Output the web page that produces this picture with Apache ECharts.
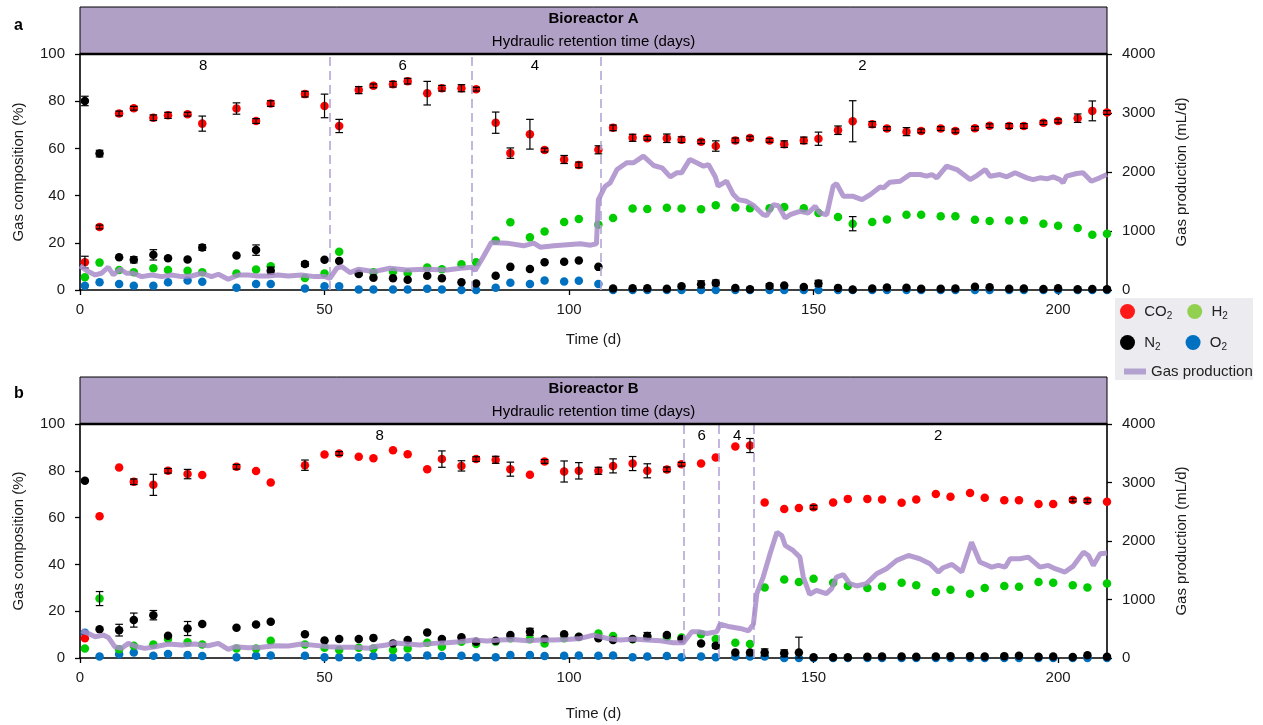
<!DOCTYPE html>
<html><head><meta charset="utf-8">
<script src="https://cdn.jsdelivr.net/npm/echarts@6/dist/echarts.min.js"></script>
<style>html,body{margin:0;padding:0;background:#fff}#c{width:1263px;height:725px}</style>
</head><body><div id="c"></div>
<script>
// ---------- Bioreactor A ----------
const daysA = [1,4,8,11,15,18,22,25,32,36,39,46,50,53,57,60,64,67,71,74,78,81,85,88,92,95,99,102,106,109,113,116,120,123,127,130,134,137,141,144,148,151,155,158,162,165,169,172,176,179,183,186,190,193,197,200,204,207,210];
const co2A = [11.8,26.7,74.8,77,73,74,74.5,70.5,76.9,71.6,79,83,78,69.5,84.7,86.5,87.2,88.5,83.4,85.5,85.5,85.1,70.9,58,66,59.3,55.3,53,59.4,68.7,64.5,64.3,64.3,63.7,62.8,61,63.4,64.4,63.4,61.8,63.4,64.1,67.7,71.5,70.2,68.4,67.1,67.4,68.4,67.4,68.5,69.6,69.5,69.5,70.9,71.6,72.8,75.9,75.2];
const co2ErrA = [2.5,0.8,1,0.8,1.2,1.3,0.8,3.2,2.4,1,1.2,1.2,5,2.8,1.5,0.8,1.2,1.2,5,1.2,1.5,0.8,4.5,2.2,6.3,0.8,1.7,1.2,1.7,1.2,1.5,0.8,1.8,1.2,0.8,2.2,1,0.8,0.8,1.4,1.4,2.8,1.8,8.7,1.2,0.8,1.7,0.8,0.8,0.8,0.8,0.8,1,1,0.8,0.8,1.8,4.2,0.8];
const h2A = [5.4,11.6,8.5,7.5,9.2,8.5,8.2,7.5,7,8.7,10.1,5.1,7,16.2,7,7.5,7.7,7.2,9.5,8.8,10.9,11.8,21,28.7,22.3,24.8,28.8,30.1,27.7,30.5,34.5,34.3,34.9,34.5,34.2,35.9,35,34.6,34.6,35.2,34.6,32.6,30.9,28.1,28.8,29.9,31.9,31.9,31.2,31.2,29.8,29.2,29.5,29.6,28.1,27.2,26.3,23.4,23.8];
const h2ErrA = [0,0,0,0,0,0,0,0,0,0,0,0,0,0,0,0,0,0,0,0,0,0,0,0,0,0,0,0,0,0,0,0,0,0,0,0,0,0,0,0,0,0,0,3,0,0,0,0,0,0,0,0,0,0,0,0,0,0,0];
const n2A = [80.1,57.8,13.9,12.8,14.9,13.5,12.9,18,14.6,16.9,8.2,11,12.8,12.3,6.8,5.2,5,4.3,6,5,3.3,2.8,6,9.8,8.9,11.8,12,12.5,9.8,0.6,0.7,0.7,0.5,1.6,2.4,3,0.8,0.3,1.7,1.9,1.3,2.8,0.9,0.2,0.6,1.1,1,0.5,0.5,0.6,1.4,1.2,0.5,0.6,0.4,0.7,0.3,0.4,0.3];
const n2ErrA = [2,1.4,0,1.3,2.2,0,0,1.2,0,2.2,1.5,1,0,0,0,0,0,0,0,0,0,0,0,0,0,0,0,0,0,0,0,0,0,0,1.5,1.2,0,0,1,0,0,1.3,0,0,0,0,0,0,0,0,0,0,0,0,0,0,0,0,0];
const o2A = [1.8,3.3,2.5,1.8,1.8,3.3,4,3.5,1,2.5,2.5,0.6,1.6,1.6,0.2,0.2,0.2,0.2,0.5,0.2,0,0,1,3.1,2.5,4,3.6,3.9,2.5,0,0,0,0,0,0,0,0,0,0,0,0,0,0,0,0,0,0,0,0,0,0,0,0,0,0,0,0,0,0];
const gasDaysA = [0,1.7,3.1,4.4,5.8,6.8,8.2,9.5,10.9,12.6,14.7,16.7,18.7,20.8,22.8,24.9,26.9,28.3,30.3,32.4,34.4,36.4,38.5,40.5,42.6,45.3,48,50.1,51.1,52.5,53.5,55.2,56.9,60,63.4,66.8,70.6,75,77.8,80.2,80.8,82.5,84.1,87.3,90.7,92.8,94.1,96.9,99.6,102.3,104.4,105.6,106,107.4,108.4,109.8,111.8,113.2,115.2,117.3,119,120.7,122,123,124.7,126.1,127.5,128.5,129.9,130.5,132.2,133.6,134.6,136.3,137.7,139.7,140.4,141.8,142.8,144.2,145.2,147.2,148.9,150.3,151.3,152.7,154,154.7,156.1,158.1,159.9,161.6,163.6,164.3,165.6,167.7,169.7,171.8,173.1,174.2,175.2,177.2,179.3,182,183.4,185.1,186.1,188.1,189.5,191.2,193.6,194.9,196.3,197.7,199,200.4,201,201.7,203.8,205.1,206.8,208.5,210];
const gasA = [408,312,255,284,386,255,352,284,284,227,255,227,255,227,238,284,227,267,182,255,255,238,238,255,238,255,227,227,199,369,397,295,352,312,369,340,352,340,369,386,329,567,805,794,749,794,726,749,766,783,760,783,1532,1759,1816,2042,2156,2156,2269,2110,2071,1918,1986,1986,2213,2156,2099,2127,1918,1759,1844,1617,1532,1503,1435,1276,1259,1446,1429,1220,1276,1333,1305,1418,1305,1276,1759,1804,1588,1588,1532,1617,1747,1730,1827,1844,1957,1957,1929,1957,1901,2099,2042,1872,1940,2042,1929,1957,1918,1986,1901,1872,1901,1884,1918,1872,1816,1929,1974,1986,1844,1901,1957];
const hrtChangeA = [51.1, 80.2, 106.5];
const hrtTextA = ['8','6','4','2'];
const hrtTextDayA = [25.2, 66, 93, 160];

// ---------- Bioreactor B ----------
const daysB = [1,4,8,11,15,18,22,25,32,36,39,46,50,53,57,60,64,67,71,74,78,81,85,88,92,95,99,102,106,109,113,116,120,123,127,130,134,137,140,144,147,150,154,157,161,164,168,171,175,178,182,185,189,192,196,199,203,206,210];
const co2B = [8.4,60.6,81.4,75.3,74,80,78.6,78.2,81.7,79.9,75,82.4,87,87.4,86,85.4,88.8,87.1,80.7,85,82.1,85,84.7,80.7,78.3,84,79.7,80,80,82.1,83.1,80,80.6,82.8,83.1,85.7,90.4,90.8,66.5,63.7,64.1,64.4,66.5,68,68,67.7,66.3,67.7,70.1,68.9,70.5,68.5,67.4,67.4,65.8,65.8,67.5,67.2,66.8];
const co2ErrB = [0,0,0,1.2,4.5,1,2,0,1,0,0,2.2,0,0.8,0,0,0,0,0,3.5,2.2,1,1.5,3,0,0.8,4.5,3.5,1.5,3,3,3,1,0.8,0,0,0,3,0,0,0,0.8,0,0,0,0,0,0,0,0,0,0,0,0,0,0,0.8,0.8,0];
const h2B = [4.1,25.4,3.7,5.2,5.8,8.1,6.7,5.8,4.1,4.1,7.4,5.8,4.4,3.4,4.4,4.1,3.4,4.1,6.5,4.8,6.9,6,7,8.4,8,6.2,8.4,9,10.5,9.4,8,9,9,8.8,10.2,8.1,6.5,6,30.1,33.5,32.5,33.9,32.2,30.8,29.9,30.6,32.2,31.1,28.2,29.2,27.5,29.9,30.8,30.4,32.5,32.2,31.1,30.1,31.8];
const h2ErrB = [0,3,0,0,0,0,0,0,0,0,0,0,0,0,0,0,0,0,0,0,0,0,0,0,0,0,0,0,0,0,0,0,0,0,0,0,0,0,0,0,0,0,0,0,0,0,0,0,0,0,0,0,0,0,0,0,0,0,0];
const n2B = [75.7,12.3,11.9,16.2,18.3,9.5,12.6,14.5,12.9,14.3,15.5,10.1,7.5,8.1,8.1,8.6,6.2,7.7,10.9,8.1,8.9,6.9,7.4,9.8,11.2,8.1,10.2,9.1,8.4,7.7,8.1,9.4,9.8,8.1,6.2,5.2,2.4,2.4,2.4,2,2.4,0.3,0.3,0.3,0.5,0.6,0.6,0.5,0.6,0.8,0.8,0.6,0.8,1,0.5,0.6,0.4,1.2,0.5];
const n2ErrB = [0,0,2.5,3,2,0,3,0,0,0,0,0,0,0,0,0,0,0,0,0,0,0,0,0,1.5,0,0,0,0,0,0,1.5,0,0,0,1,0,0,1.5,1.5,6.5,0,0,0,0,0,0,0,0,0,0,0,0,0,0,0,0,0,0];
const o2B = [10.8,0.6,1.6,2.4,1,1.7,1.3,0.9,0.3,1,1.1,1,0.3,0.3,0.3,0.9,0.3,0.3,1.1,0.9,1,0.3,0.3,1.3,1.3,0.9,1,1.1,1,1.1,0.3,0.6,0.9,0.3,0.6,0.3,0.6,0.6,0.6,0,0,0,0,0,0,0,0,0,0,0,0,0,0,0,0,0,0,0,0];
const gasDaysB = [0.3,1.7,3.1,4.8,5.8,7.1,8.5,9.9,11.6,13.3,15.3,18.1,20.8,23.5,26.2,28.3,30.3,31.7,34.4,37.1,39.9,42.6,45.3,48.1,50.8,53.5,56.2,59,60,62.7,64.1,66.8,69.5,72.3,75,77.7,80.5,83.2,85.9,88.6,91.4,94.1,96.8,99.6,102.3,105,107.8,110.5,113.2,115.9,118.7,121.3,123.4,125.1,126.5,128.2,130.2,130.9,132.9,135,136.7,137.7,138.4,139.7,141.1,142.5,143.5,144.2,145.8,147.2,147.9,149.2,150.6,152.6,153.7,154.7,156.1,157.4,158.8,160.8,162.9,164.9,167,169.4,171.7,173.8,175.5,176.5,178.3,180.3,182.3,184,186.4,187.8,189.2,190.2,192.2,193.9,196.3,198,199.4,201.4,203.1,205.2,206.2,207.2,208.6,210];
const gasB = [465,420,363,391,352,193,165,250,193,165,193,238,221,238,210,250,148,193,176,182,210,204,238,216,193,182,182,165,193,221,261,238,221,250,261,278,307,289,307,318,295,307,307,318,335,391,335,307,323,307,295,261,261,448,448,420,448,579,533,505,465,579,1101,1384,1782,2150,2093,1923,1838,1725,1384,1089,1157,1101,1186,1384,1424,1271,1231,1271,1441,1526,1668,1753,1697,1611,1469,1543,1600,1469,1980,1640,1554,1583,1554,1697,1697,1725,1554,1583,1526,1469,1571,1810,1753,1583,1782,1793];
const hrtChangeB = [123.5, 130.7, 137.8];
const hrtTextB = ['8','6','4','2'];
const hrtTextDayB = [61.3, 127.1, 134.4, 175.5];

// ---------- styling ----------
const FONT = '"Liberation Sans", Arial, sans-serif';
const C = {CO2:'#ff0000', H2:'#00cc00', N2:'#000000', O2:'#0070c0', gas:'#a88bc9', dash:'#b4a6d6', head:'#b1a0c6'};
const LEG = {CO2:'#ff1a1a', H2:'#92d050', N2:'#000000', O2:'#0070c0', 'Gas production':'#b3a2cf'};

const zip = (a, b) => a.map((v, i) => [v, b[i]]);
const errData = (d, v, e) => d.map((x, i) => [x, v[i], e[i]]).filter(r => r[2] > 0);

function errRender(params, api) {
  const x = api.value(0), y = api.value(1), e = api.value(2);
  const t = api.coord([x, y + e]), b = api.coord([x, Math.max(0, y - e)]);
  const c = 3.8, st = {stroke:'#000', lineWidth:1.2};
  return {type:'group', children:[
    {type:'line', shape:{x1:t[0], y1:t[1], x2:b[0], y2:b[1]}, style:st},
    {type:'line', shape:{x1:t[0]-c, y1:t[1], x2:t[0]+c, y2:t[1]}, style:st},
    {type:'line', shape:{x1:b[0]-c, y1:b[1], x2:b[0]+c, y2:b[1]}, style:st}
  ]};
}

function panel(k, d, co2, co2E, h2, h2E, n2, n2E, o2, gd, gv, changes, txt, txtDay) {
  const xi = k, yl = 2*k, yr = 2*k + 1;
  const sc = (name, data, z) => ({type:'scatter', name, xAxisIndex:xi, yAxisIndex:yl, data, symbolSize:8.5,
    itemStyle:{color:C[name], opacity:1}, z, silent:true});
  const eb = (data) => ({type:'custom', xAxisIndex:xi, yAxisIndex:yl, renderItem:errRender, data, z:4, silent:true});
  return [
    sc('O2', zip(d, o2), 3),
    sc('H2', zip(d, h2), 3),
    sc('N2', zip(d, n2), 3),
    sc('CO2', zip(d, co2), 3),
    eb(errData(d, co2, co2E)), eb(errData(d, h2, h2E)), eb(errData(d, n2, n2E)),
    {type:'line', name:'Gas production', xAxisIndex:xi, yAxisIndex:yr, data:zip(gd, gv), showSymbol:false,
      symbol:'none', lineStyle:{color:C.gas, width:5, opacity:0.85}, itemStyle:{color:C.gas}, z:5, silent:true,
      markLine:{silent:true, symbol:['none','none'], label:{show:false},
        lineStyle:{color:C.dash, type:[9,5], width:1.6}, data:changes.map(v => ({xAxis:v}))}},
    {type:'scatter', xAxisIndex:xi, yAxisIndex:yl, symbolSize:2, itemStyle:{color:'rgba(255,255,255,0)'}, silent:true, z:6,
      data:txt.map((t, i) => ({value:[txtDay[i], 94.8], name:t})),
      label:{show:true, position:'inside', formatter:p => p.name, fontSize:15, color:'#000', opacity:1,
        textBorderWidth:0, fontFamily:FONT}}
  ];
}

const lab = {fontSize:15, color:'#1a1a1a', fontFamily:FONT};
const axisCommon = {
  axisLine:{show:true, lineStyle:{color:'#000', width:1.6}},
  axisTick:{show:true, length:5, lineStyle:{color:'#000', width:1.3}},
  splitLine:{show:false},
  nameTextStyle:{fontSize:15, color:'#1a1a1a', fontFamily:FONT}
};
const xAx = (g, gap) => Object.assign({}, axisCommon, {type:'value', gridIndex:g, min:0, max:210, interval:50,
  name:'Time (d)', nameLocation:'middle', nameGap:gap,
  axisLabel:Object.assign({}, lab, {margin:12, showMaxLabel:false, formatter:v => (v % 50 === 0 ? String(v) : '')})});
const yL = (g) => Object.assign({}, axisCommon, {type:'value', gridIndex:g, min:0, max:100, interval:20, position:'left',
  name:'Gas composition (%)', nameLocation:'middle', nameGap:54, axisLabel:Object.assign({}, lab, {margin:15})});
const yR = (g) => Object.assign({}, axisCommon, {type:'value', gridIndex:g, min:0, max:4000, interval:1000, position:'right',
  name:'Gas production (mL/d)', nameLocation:'middle', nameGap:67,
  axisLabel:Object.assign({}, lab, {margin:15, formatter:v => String(v)})});

const legendText = {fontSize:15, color:'#222', fontFamily:FONT, rich:{s:{fontSize:10, fontFamily:FONT, color:'#222', padding:[9,0,0,0]}}};
const fmt = n => (/\d/.test(n) ? ' ' : '') + n.replace(/(\d)/, '{s|$1}');
const legItem = n => ({name:n, itemStyle:{color:LEG[n]}});

function header(y, title) {
  return [
    {type:'rect', shape:{x:80, y:y, width:1027, height:47}, style:{fill:C.head, stroke:'#000', lineWidth:1}, z:10},
    {type:'line', shape:{x1:80, y1:y+47, x2:1107, y2:y+47}, style:{stroke:'#000', lineWidth:2.4}, z:11},
    {type:'text', x:593.5, y:y+12, style:{text:title, font:'bold 15px ' + FONT, fill:'#000', textAlign:'center', textVerticalAlign:'middle'}, z:11},
    {type:'text', x:593.5, y:y+35, style:{text:'Hydraulic retention time (days)', font:'15px ' + FONT, fill:'#000', textAlign:'center', textVerticalAlign:'middle'}, z:11}
  ];
}

const chart = echarts.init(document.getElementById('c'), null, {renderer:'canvas'});
chart.setOption({
  animation:false,
  backgroundColor:'#fff',
  grid:[
    {left:80, width:1027, top:54, height:236, containLabel:false},
    {left:80, width:1027, top:424, height:234, containLabel:false}
  ],
  xAxis:[xAx(0, 42), xAx(1, 48)],
  yAxis:[yL(0), yR(0), yL(1), yR(1)],
  legend:[
    {left:1115, top:299, itemWidth:15, itemHeight:15, itemGap:15, icon:'circle', selectedMode:false,
      data:[legItem('CO2'), legItem('H2')], formatter:fmt, textStyle:legendText},
    {left:1115, top:330, itemWidth:15, itemHeight:15, itemGap:25, icon:'circle', selectedMode:false,
      data:[legItem('N2'), legItem('O2')], formatter:fmt, textStyle:legendText},
    {left:1119, top:359, itemWidth:22, itemHeight:6, itemGap:10, icon:'rect', selectedMode:false,
      data:[legItem('Gas production')], formatter:fmt, textStyle:legendText}
  ],
  graphic:[
    {type:'rect', shape:{x:1115, y:298, width:138, height:82}, style:{fill:'#ecebf0'}, z:-1, silent:true},
    ...header(7, 'Bioreactor A'),
    ...header(377, 'Bioreactor B'),
    {type:'text', x:14, y:18, style:{text:'a', font:'bold 16px ' + FONT, fill:'#000'}},
    {type:'text', x:14, y:386, style:{text:'b', font:'bold 16px ' + FONT, fill:'#000'}}
  ],
  series:[
    ...panel(0, daysA, co2A, co2ErrA, h2A, h2ErrA, n2A, n2ErrA, o2A, gasDaysA, gasA, hrtChangeA, hrtTextA, hrtTextDayA),
    ...panel(1, daysB, co2B, co2ErrB, h2B, h2ErrB, n2B, n2ErrB, o2B, gasDaysB, gasB, hrtChangeB, hrtTextB, hrtTextDayB)
  ]
});
</script></body></html>
